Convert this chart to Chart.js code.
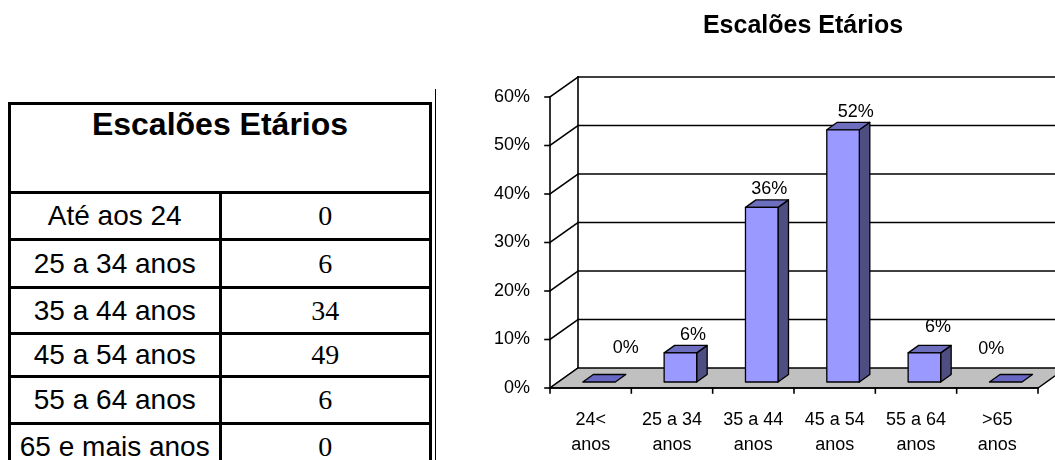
<!DOCTYPE html>
<html>
<head>
<meta charset="utf-8">
<script src="https://cdn.jsdelivr.net/npm/chart.js@4.4.0/dist/chart.umd.min.js"></script>
<style>
  html, body { margin: 0; padding: 0; background: #fff; overflow: hidden; }
  body { width: 1055px; height: 460px; position: relative; }
  #ageTable {
    position: absolute; left: 8px; top: 102px; width: 424px;
    border-collapse: collapse; table-layout: fixed;
  }
  #ageTable td { border: 3px solid #000; padding: 0; text-align: center; color: #000; }
  #ageTable td.head {
    font: bold 32px "Liberation Sans", Arial, sans-serif;
    vertical-align: top; line-height: 38px; height: 86px;
  }
  #ageTable td.name { width: 214px; font: 28px "Liberation Sans", Arial, sans-serif; }
  #ageTable td.count { font: 28px "Liberation Serif", "Times New Roman", serif; }
  #divider { position: absolute; left: 435px; top: 89px; width: 1px; height: 371px; background: #000; }
  #chartBox { position: absolute; left: 440px; top: 0; width: 615px; height: 460px; }
</style>
</head>
<body>
<table id="ageTable"></table>
<div id="divider"></div>
<div id="chartBox"><canvas id="ageChart" width="615" height="460"></canvas></div>
<script>
// table data
const tableTitle = 'Escalões Etários';
const ageGroups = ['Até aos 24', '25 a 34 anos', '35 a 44 anos', '45 a 54 anos', '55 a 64 anos', '65 e mais anos'];
const counts = [0, 6, 34, 49, 6, 0];
const rowHeights = [47, 48, 46, 43, 47, 47];

// chart data
const categories = [['24<', 'anos'], ['25 a 34', 'anos'], ['35 a 44', 'anos'], ['45 a 54', 'anos'], ['55 a 64', 'anos'], ['>65', 'anos']];
const percentages = [0, 6, 36, 52, 6, 0];
const yMax = 60;
const yStep = 10;

// build the table
const table = document.getElementById('ageTable');
const head = table.insertRow();
const hc = head.insertCell();
hc.colSpan = 2;
hc.className = 'head';
hc.textContent = tableTitle;
ageGroups.forEach((g, i) => {
  const tr = table.insertRow();
  tr.style.height = rowHeights[i] + 'px';
  const a = tr.insertCell(); a.className = 'name'; a.textContent = g;
  const b = tr.insertCell(); b.className = 'count'; b.textContent = counts[i];
});

const FONT = '"Liberation Sans", Arial, sans-serif';
const DX = 28, DY = -20;          // depth of the 3d box
const BAR_FRONT = 0.3, BAR_BACK = 0.675;  // bar position inside the depth
const labelNudge = { dx: [35, 21, 16, 21, 22, -6], dy: [-16, 0, 0, 0, -8, -15] };

function poly(ctx, pts, fill) {
  ctx.beginPath();
  ctx.moveTo(pts[0][0], pts[0][1]);
  for (let i = 1; i < pts.length; i++) ctx.lineTo(pts[i][0], pts[i][1]);
  ctx.closePath();
  if (fill) { ctx.fillStyle = fill; ctx.fill(); }
  ctx.stroke();
}

function line(ctx, x1, y1, x2, y2) {
  ctx.beginPath();
  ctx.moveTo(x1, y1);
  ctx.lineTo(x2, y2);
  ctx.stroke();
}

const box3d = {
  id: 'box3d',
  beforeDatasetsDraw(chart) {
    const { ctx, chartArea: a, scales: { x: xs, y: ys } } = chart;
    const n = chart.data.labels.length;
    const step = (a.right - a.left) / n;
    ctx.save();
    ctx.strokeStyle = '#000';
    ctx.lineCap = 'square';

    // back wall grid lines
    ctx.lineWidth = 1.6;
    for (let v = yStep; v <= yMax; v += yStep) {
      const y = ys.getPixelForValue(v) + DY;
      line(ctx, a.left + DX, y, a.right + DX + 40, y);
    }
    // side wall
    line(ctx, a.left + DX, a.top + DY, a.left + DX, a.bottom + DY);
    for (let v = 0; v <= yMax; v += yStep) {
      const y = ys.getPixelForValue(v);
      line(ctx, a.left, y, a.left + DX, y + DY);
      line(ctx, a.left - 5, y, a.left, y);
    }
    line(ctx, a.left, a.top, a.left, a.bottom);

    // floor
    ctx.lineWidth = 1.3;
    poly(ctx, [[a.left, a.bottom], [a.right, a.bottom], [a.right + DX, a.bottom + DY], [a.left + DX, a.bottom + DY]], '#c0c0c0');
    ctx.lineWidth = 1.6;
    line(ctx, a.left, a.bottom, a.right, a.bottom);
    for (let i = 0; i <= n; i++) {
      const x = a.left + i * step;
      line(ctx, x, a.bottom, x, a.bottom + 5);
    }

    // bars
    ctx.lineWidth = 1.3;
    ctx.lineJoin = 'round';
    const meta = chart.getDatasetMeta(0);
    meta.data.forEach((bar) => {
      const { x, y, base, width } = bar.getProps(['x', 'y', 'base', 'width'], true);
      const fx = x - width / 2 + DX * BAR_FRONT;
      const fy = DY * BAR_FRONT;
      const ddx = DX * (BAR_BACK - BAR_FRONT), ddy = DY * (BAR_BACK - BAR_FRONT);
      const top = y + fy, bot = base + fy;
      if (Math.abs(base - y) < 0.5) {
        poly(ctx, [[fx, bot], [fx + width, bot], [fx + width + ddx, bot + ddy], [fx + ddx, bot + ddy]], '#6868c4');
        return;
      }
      poly(ctx, [[fx + width, top], [fx + width + ddx, top + ddy], [fx + width + ddx, bot + ddy], [fx + width, bot]], '#4e4e82');
      poly(ctx, [[fx, top], [fx + width, top], [fx + width + ddx, top + ddy], [fx + ddx, top + ddy]], '#6e6ebf');
      poly(ctx, [[fx, top], [fx + width, top], [fx + width, bot], [fx, bot]], '#9999ff');
    });
    ctx.restore();
  },
  afterDatasetsDraw(chart) {
    const { ctx, chartArea: a, scales: { x: xs, y: ys } } = chart;
    const vals = chart.data.datasets[0].data;
    ctx.save();
    ctx.fillStyle = '#000';
    ctx.font = '18px ' + FONT;
    ctx.textAlign = 'center';
    ctx.textBaseline = 'middle';
    vals.forEach((v, i) => {
      const cx = xs.getPixelForValue(i) + labelNudge.dx[i];
      const backTop = ys.getPixelForValue(v) + DY * BAR_BACK;
      ctx.fillText(v + '%', cx, backTop - 10.5 + labelNudge.dy[i]);
    });
    // title
    ctx.font = 'bold 25px ' + FONT;
    ctx.fillText(tableTitle, (a.left + a.right + DX) / 2 - 5, 26);
    ctx.restore();
  }
};

new Chart(document.getElementById('ageChart'), {
  type: 'bar',
  data: {
    labels: categories,
    datasets: [{
      data: percentages,
      backgroundColor: 'rgba(0,0,0,0)',
      borderWidth: 0,
      barPercentage: 0.4,
      categoryPercentage: 1
    }]
  },
  options: {
    responsive: false,
    animation: false,
    layout: { padding: { top: 97, right: 17, left: 0, bottom: 0 } },
    plugins: { legend: { display: false }, tooltip: { enabled: false }, title: { display: false } },
    scales: {
      x: {
        grid: { display: false },
        border: { display: false },
        ticks: { color: '#000', font: { family: FONT, size: 18, lineHeight: 1.39 }, padding: 12, maxRotation: 0, autoSkip: false },
        afterFit: (s) => { s.height = 72; }
      },
      y: {
        min: 0,
        max: yMax,
        grid: { display: false },
        border: { display: false },
        ticks: { stepSize: yStep, color: '#000', font: { family: FONT, size: 18 }, padding: 12, callback: (v) => v + '%' },
        afterFit: (s) => { s.width = 110; }
      }
    }
  },
  plugins: [box3d]
});
</script>
</body>
</html>
